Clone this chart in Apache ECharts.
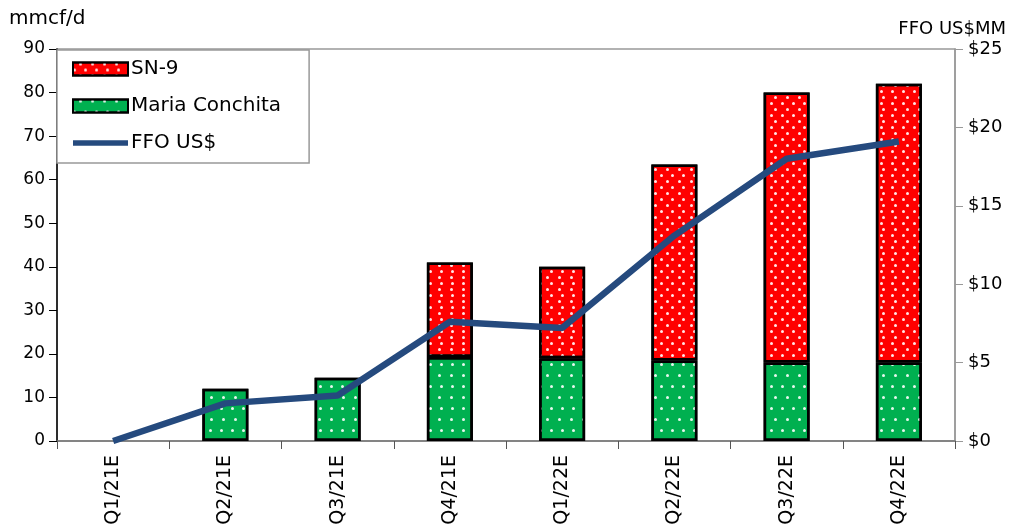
<!DOCTYPE html>
<html>
<head>
<meta charset="utf-8">
<script src="https://cdn.jsdelivr.net/npm/echarts@6/dist/echarts.min.js"></script>
<style>
  html, body { margin: 0; padding: 0; background: #fff; }
  #chart { width: 1014px; height: 529px; }
</style>
</head>
<body>
<div id="chart"></div>
<script>
// 季度标签
const quarters = ['Q1/21E', 'Q2/21E', 'Q3/21E', 'Q4/21E', 'Q1/22E', 'Q2/22E', 'Q3/22E', 'Q4/22E'];
// 产量 mmcf/d (null = 无柱)
const mariaConchita = [null, 12, 14.5, 19.3, 19, 18.5, 18, 18];
const sn9 = [null, null, null, 21.7, 21, 45, 62, 64];
// FFO US$MM
const ffo = [0, 2.4, 2.9, 7.6, 7.2, 13.1, 18.0, 19.1];

const FONT = 'DejaVu Sans';

// 白点图案
function dots(rowGap) {
    return {
        symbol: 'circle',
        symbolSize: 1,
        color: 'rgba(255,255,255,0.9)',
        dashArrayX: [[3, 8], [0, 5.5, 3, 2.5]],
        dashArrayY: [3, rowGap]
    };
}

const chart = echarts.init(document.getElementById('chart'));

chart.setOption({
    animation: false,
    textStyle: { fontFamily: FONT },
    graphic: [
        { type: 'text', left: 9, top: 9, style: { text: 'mmcf/d', fontSize: 20, fontFamily: FONT, fill: '#000' } },
        { type: 'text', right: 8, top: 20, style: { text: 'FFO US$MM', fontSize: 18, fontFamily: FONT, fill: '#000' } }
    ],
    grid: {
        left: 57, right: 59, top: 49, bottom: 88,
        show: true, borderColor: '#999', borderWidth: 1.5
    },
    legend: {
        orient: 'vertical',
        left: 57, top: 50,
        data: [
            { name: 'SN-9', icon: 'rect' },
            { name: 'Maria Conchita', icon: 'rect' },
            { name: 'FFO US$', icon: 'path://M0,0 L10,0 L10,1 L0,1 Z' }
        ],
        itemWidth: 55,
        itemHeight: 13,
        itemGap: 17,
        padding: [9, 28, 10, 15],
        backgroundColor: '#fff',
        borderColor: '#999',
        borderWidth: 1.5,
        textStyle: { fontSize: 20, color: '#000', fontFamily: FONT, padding: [0, 0, 0, -2] }
    },
    xAxis: {
        type: 'category',
        data: quarters,
        axisLine: { lineStyle: { color: '#777', width: 1.5 } },
        axisTick: { show: true, length: 8, lineStyle: { color: '#555' } },
        axisLabel: { rotate: 90, fontSize: 19, color: '#000', margin: 14 },
        splitLine: { show: false }
    },
    yAxis: [
        {
            type: 'value', min: 0, max: 90, interval: 10,
            axisLine: { show: true, lineStyle: { color: '#000', width: 1.5 } },
            axisTick: { show: true, length: 8, lineStyle: { color: '#000' } },
            axisLabel: { fontSize: 17, color: '#000', margin: 12 },
            splitLine: { show: false }
        },
        {
            type: 'value', min: 0, max: 25, interval: 5,
            position: 'right',
            axisLine: { show: true, lineStyle: { color: '#999', width: 1.5 } },
            axisTick: { show: true, length: 8, lineStyle: { color: '#999' } },
            axisLabel: { fontSize: 18, color: '#000', margin: 13, formatter: '${value}' },
            splitLine: { show: false }
        }
    ],
    series: [
        {
            name: 'Maria Conchita',
            type: 'bar',
            stack: 'prod',
            barWidth: 46,
            data: mariaConchita,
            itemStyle: { color: '#00B050', borderColor: '#000', borderWidth: 2.5, decal: dots(8) }
        },
        {
            name: 'SN-9',
            type: 'bar',
            stack: 'prod',
            barWidth: 46,
            data: sn9,
            itemStyle: { color: '#FF0000', borderColor: '#000', borderWidth: 2.5, decal: dots(2.5) }
        },
        {
            name: 'FFO US$',
            type: 'line',
            yAxisIndex: 1,
            data: ffo,
            symbol: 'none',
            lineStyle: { color: '#254A7E', width: 6.5 },
            itemStyle: { color: '#254A7E' },
            z: 5
        }
    ]
});
</script>
</body>
</html>
